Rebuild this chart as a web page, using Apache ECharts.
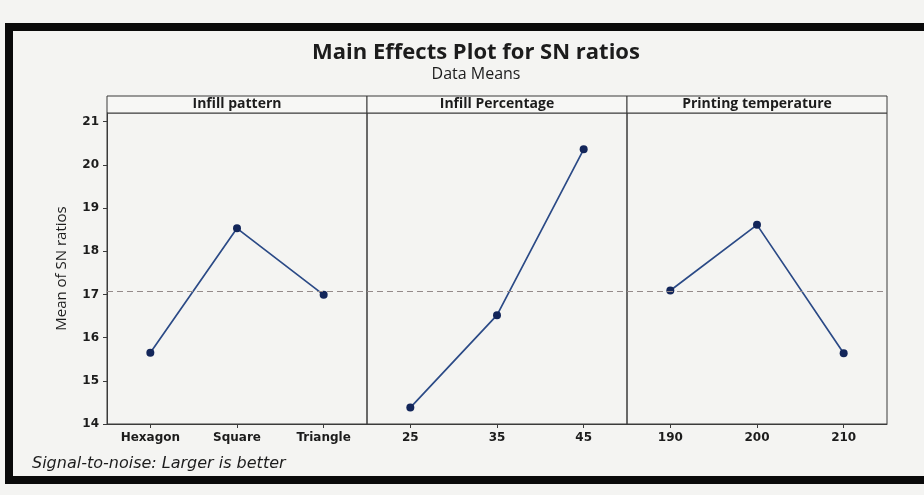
<!DOCTYPE html>
<html>
<head>
<meta charset="utf-8">
<script src="https://cdn.jsdelivr.net/npm/echarts@6/dist/echarts.min.js"></script>
<style>
  html, body { margin: 0; padding: 0; background: #f4f4f2; }
  #chart { width: 924px; height: 495px; }
</style>
</head>
<body>
<div id="chart"></div>
<script>
// Factor levels and the mean S/N ratio at each level
const patternLevels = ['Hexagon', 'Square', 'Triangle'];
const patternMeans = [15.65, 18.53, 16.99];
const percentLevels = ['25', '35', '45'];
const percentMeans = [14.38, 16.52, 20.36];
const tempLevels = ['190', '200', '210'];
const tempMeans = [17.09, 18.61, 15.64];
const grandMean = 17.08;
const yTicks = [14, 15, 16, 17, 18, 19, 20, 21];
const panelTitles = ['Infill pattern', 'Infill Percentage', 'Printing temperature'];

const panels = [
  { levels: patternLevels, means: patternMeans },
  { levels: percentLevels, means: percentMeans },
  { levels: tempLevels, means: tempMeans }
];

// Panel geometry
const plotLeft = 107, panelW = 260, plotTop = 113, plotH = 311, headerH = 17;
const yMin = 14, yMax = 21.2;
const ink = '#1c1c1c';
const font = '"Open Sans", "Noto Sans", sans-serif';
const wideFont = '"DejaVu Sans", Verdana, sans-serif';

const chart = echarts.init(document.getElementById('chart'), null, { renderer: 'canvas' });

const grid = [], xAxis = [], yAxis = [], series = [];
panels.forEach((p, i) => {
  grid.push({
    left: plotLeft + i * panelW, top: plotTop, width: panelW, height: plotH,
    show: true, borderColor: '#3a3a3a', borderWidth: 1, backgroundColor: 'transparent'
  });
  xAxis.push({
    type: 'category', gridIndex: i, data: p.levels, boundaryGap: true,
    axisLine: { show: true, lineStyle: { color: '#3a3a3a', width: 1 } },
    axisTick: { show: true, alignWithLabel: true, length: 4, lineStyle: { color: '#3a3a3a' } },
    axisLabel: { color: ink, fontFamily: wideFont, fontSize: 12, fontWeight: 'bold', margin: 8 },
    splitLine: { show: false }
  });
  yAxis.push({
    type: 'value', gridIndex: i, min: yMin, max: yMax, show: i === 0,
    name: i === 0 ? 'Mean of SN ratios' : '', nameLocation: 'middle', nameGap: 38,
    nameTextStyle: { color: ink, fontFamily: font, fontSize: 15 },
    axisLine: { show: true, lineStyle: { color: '#3a3a3a', width: 1 } },
    axisTick: { show: true, length: 4, customValues: yTicks, lineStyle: { color: '#3a3a3a' } },
    axisLabel: { color: ink, fontFamily: wideFont, fontSize: 12, fontWeight: 'bold', margin: 8, customValues: yTicks },
    splitLine: { show: false }
  });
  series.push({
    type: 'line', xAxisIndex: i, yAxisIndex: i, data: p.means,
    symbol: 'circle', symbolSize: 8,
    lineStyle: { color: '#2b4a86', width: 1.7 },
    itemStyle: { color: '#13265a' },
    markLine: {
      silent: true, symbol: 'none', label: { show: false },
      lineStyle: { color: '#948a8a', type: [6, 4], width: 1 },
      data: [{ yAxis: grandMean }]
    },
    z: 3
  });
});

// Outer frame, titles, footnote and the header strip above each panel
const graphic = [
  {
    type: 'rect', shape: { x: 9, y: 27, width: 940, height: 453 },
    style: { fill: 'none', stroke: '#0a0a0a', lineWidth: 8 }, z: 10
  },
  {
    type: 'text', x: 476, y: 53,
    style: { text: 'Main Effects Plot for SN ratios', fill: ink, font: 'bold 22px ' + font, align: 'center', verticalAlign: 'middle' }
  },
  {
    type: 'text', x: 476, y: 74,
    style: { text: 'Data Means', fill: ink, font: '16px ' + font, align: 'center', verticalAlign: 'middle' }
  },
  {
    type: 'text', x: 32, y: 464,
    style: { text: 'Signal-to-noise: Larger is better', fill: ink, font: 'italic 16px ' + wideFont, align: 'left', verticalAlign: 'middle' }
  }
];
panelTitles.forEach((t, i) => {
  graphic.push({
    type: 'rect', shape: { x: plotLeft + i * panelW, y: plotTop - headerH, width: panelW, height: headerH },
    style: { fill: '#f7f7f5', stroke: '#3a3a3a', lineWidth: 1 }
  });
  graphic.push({
    type: 'text', x: plotLeft + i * panelW + panelW / 2, y: plotTop - headerH / 2,
    style: { text: t, fill: ink, font: 'bold 14px ' + font, align: 'center', verticalAlign: 'middle' }
  });
});

chart.setOption({
  backgroundColor: '#f4f4f2',
  animation: false,
  grid, xAxis, yAxis, series, graphic
});
</script>
</body>
</html>
